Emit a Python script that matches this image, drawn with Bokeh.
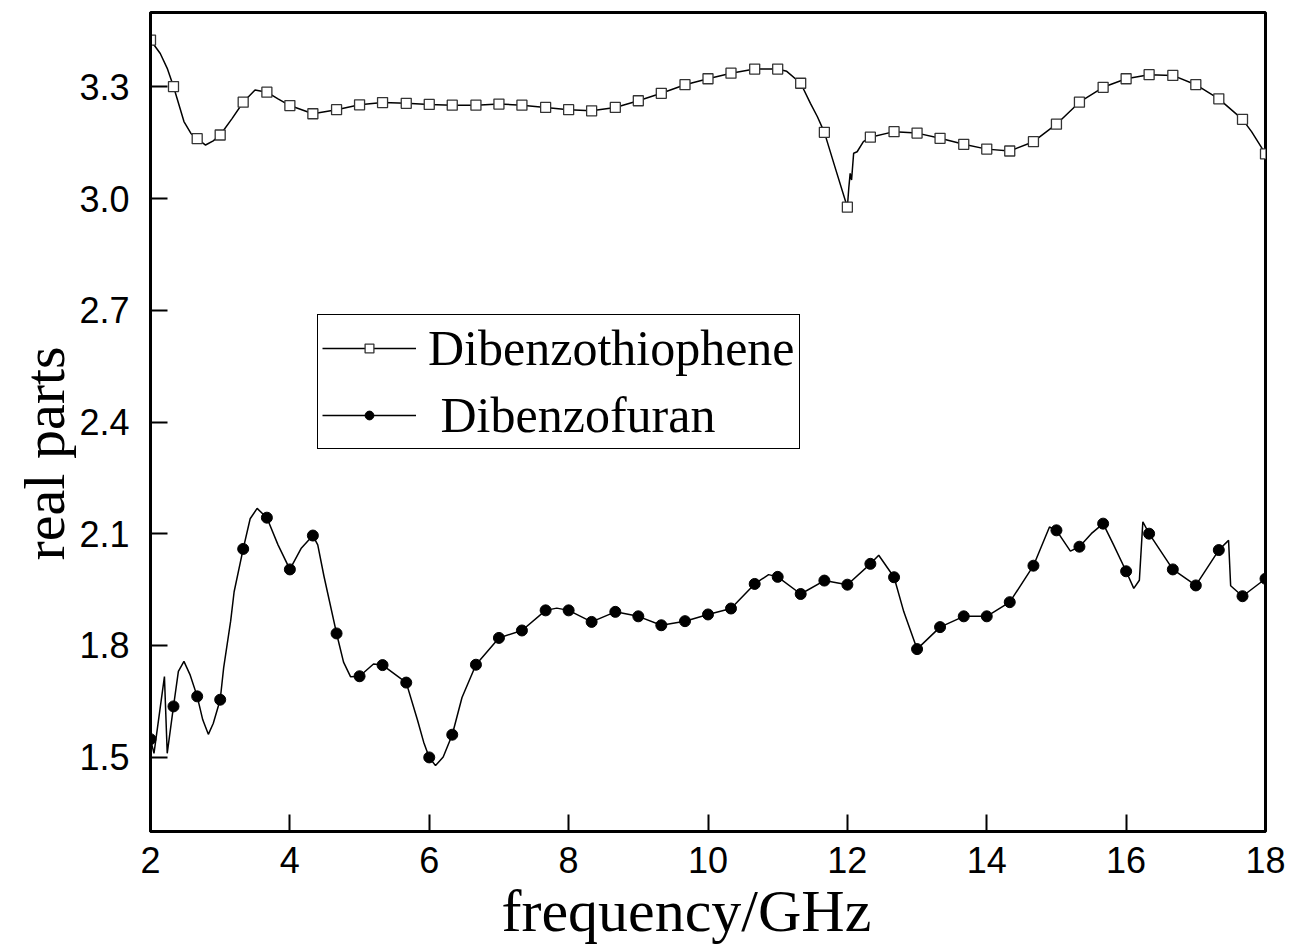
from bokeh.plotting import figure
from bokeh.models import Range1d, FixedTicker, PrintfTickFormatter, Legend, LegendItem, Title
from bokeh.embed import file_html
from bokeh.resources import INLINE

# ---- data ----
freq = [2.0, 2.33, 2.67, 3.0, 3.33, 3.67, 4.0, 4.33, 4.67, 5.0, 5.33, 5.67, 6.0,
        6.33, 6.67, 7.0, 7.33, 7.67, 8.0, 8.33, 8.67, 9.0, 9.33, 9.67, 10.0,
        10.33, 10.67, 11.0, 11.33, 11.67, 12.0, 12.33, 12.67, 13.0, 13.33, 13.67,
        14.0, 14.33, 14.67, 15.0, 15.33, 15.67, 16.0, 16.33, 16.67, 17.0, 17.33,
        17.67, 18.0]

dbt = [3.426, 3.301, 3.161, 3.171, 3.259, 3.286, 3.25, 3.228, 3.239, 3.252, 3.258,
       3.256, 3.253, 3.251, 3.251, 3.254, 3.251, 3.245, 3.239, 3.236, 3.245, 3.263,
       3.283, 3.306, 3.322, 3.337, 3.348, 3.348, 3.31, 3.178, 2.977, 3.165, 3.18,
       3.176, 3.162, 3.146, 3.133, 3.128, 3.153, 3.2, 3.259, 3.299, 3.322, 3.333,
       3.331, 3.306, 3.268, 3.213, 3.12]

dbf = [1.548, 1.636, 1.663, 1.654, 2.059, 2.143, 2.004, 2.095, 1.832, 1.717, 1.747,
       1.70, 1.499, 1.56, 1.748, 1.82, 1.84, 1.894, 1.894, 1.863, 1.89, 1.878,
       1.854, 1.865, 1.883, 1.899, 1.965, 1.984, 1.938, 1.974, 1.963, 2.019, 1.983,
       1.79, 1.849, 1.878, 1.878, 1.916, 2.014, 2.109, 2.065, 2.127, 1.999, 2.10,
       2.004, 1.961, 2.056, 1.932, 1.979]

# additional points of the measured curves between the markers
dbt_extra_f = [2.14, 2.24, 2.48, 2.58, 2.79, 2.9, 3.17, 3.5, 3.83, 11.13, 11.47, 11.57,
               11.83, 12.02, 12.04, 12.06, 12.09, 12.14, 12.23, 17.8]
dbt_extra_v = [3.39, 3.35, 3.207, 3.175, 3.144, 3.155, 3.215, 3.292, 3.268, 3.342, 3.256,
               3.22, 3.08, 3.028, 3.068, 3.05, 3.122, 3.126, 3.153, 3.18]

dbf_extra_f = [2.05, 2.2, 2.24, 2.4, 2.48, 2.57, 2.75, 2.83, 2.9, 3.05, 3.15, 3.2, 3.43,
               3.53, 3.83, 4.16, 4.4, 4.49, 4.77, 4.87, 5.2, 5.83, 5.92, 6.09, 6.2, 6.47,
               7.83, 10.87, 12.45, 12.81, 14.9, 15.2, 15.5, 15.82, 16.11, 16.19, 16.24,
               17.47, 17.5]
dbf_extra_v = [1.51, 1.716, 1.51, 1.73, 1.757, 1.72, 1.60, 1.561, 1.59, 1.74, 1.865, 1.944,
               2.14, 2.168, 2.07, 2.06, 2.07, 1.985, 1.755, 1.716, 1.75, 1.6, 1.54, 1.477,
               1.5, 1.66, 1.90, 1.99, 2.042, 1.89, 2.118, 2.053, 2.10, 2.07, 1.953, 1.975,
               2.132, 2.082, 1.96]

x_ticks = [2, 4, 6, 8, 10, 12, 14, 16, 18]
y_ticks = [1.5, 1.8, 2.1, 2.4, 2.7, 3.0, 3.3]


def merged(f1, v1, f2, v2):
    pts = sorted(zip(list(f1) + list(f2), list(v1) + list(v2)))
    return [a for a, _ in pts], [b for _, b in pts]


dbt_lx, dbt_ly = merged(freq, dbt, dbt_extra_f, dbt_extra_v)
dbf_lx, dbf_ly = merged(freq, dbf, dbf_extra_f, dbf_extra_v)

p = figure(width=1300, height=952, x_range=Range1d(2, 18), y_range=Range1d(1.3, 3.5),
           output_backend="svg", toolbar_location=None,
           min_border_left=150, min_border_right=35, min_border_top=12, min_border_bottom=121)

p.background_fill_color = "white"
p.border_fill_color = "white"
p.outline_line_color = "black"
p.outline_line_width = 3
p.xgrid.visible = False
p.ygrid.visible = False

for ax in (p.xaxis[0], p.yaxis[0]):
    ax.axis_line_width = 3
    ax.axis_line_color = "black"
    ax.major_tick_in = 17
    ax.major_tick_out = 0
    ax.major_tick_line_width = 2
    ax.minor_tick_in = 0
    ax.minor_tick_out = 0
    ax.major_label_text_font = "Liberation Sans"
    ax.major_label_text_font_size = "36px"
    ax.major_label_text_color = "black"

p.xaxis.ticker = FixedTicker(ticks=x_ticks)
p.xaxis.formatter = PrintfTickFormatter(format="%d")
p.xaxis.major_label_standoff = 15

p.yaxis.ticker = FixedTicker(ticks=y_ticks)
p.yaxis.formatter = PrintfTickFormatter(format="%.1f")
p.yaxis.major_label_standoff = 21

# axis titles as separate titles so that they can be shifted like in the reference
xtitle = Title(text="frequency/GHz", text_font="Liberation Serif", text_font_size="60px",
               text_font_style="normal", text_color="black", align="left",
               offset=351, standoff=0)
ytitle = Title(text="real parts", text_font="Liberation Serif", text_font_size="58px",
               text_font_style="normal", text_color="black", align="left",
               offset=271, standoff=0)
p.add_layout(xtitle, "below")
p.add_layout(ytitle, "left")

l1 = p.line(dbt_lx, dbt_ly, line_color="black", line_width=1.5)
m1 = p.scatter(freq, dbt, marker="square", size=10, fill_color="white",
               line_color="#333333", line_width=1.3)
l2 = p.line(dbf_lx, dbf_ly, line_color="black", line_width=1.5)
m2 = p.scatter(freq, dbf, marker="circle", size=11, fill_color="black",
               line_color="black")

legend = Legend(items=[LegendItem(label="Dibenzothiophene", renderers=[l1, m1]),
                       LegendItem(label=" Dibenzofuran", renderers=[l2, m2])],
                location=(167, 382))
legend.label_text_font = "Liberation Serif"
legend.label_text_font_size = "50px"
legend.label_text_color = "black"
legend.glyph_width = 94
legend.glyph_height = 22
legend.label_height = 49
legend.spacing = 9
legend.padding = 4
legend.margin = 0
legend.label_standoff = 12
legend.border_line_color = "black"
legend.border_line_alpha = 1.0
legend.border_line_width = 1.5
legend.background_fill_alpha = 1.0
p.add_layout(legend, "center")

open("out.html", "w").write(file_html(p, INLINE))
